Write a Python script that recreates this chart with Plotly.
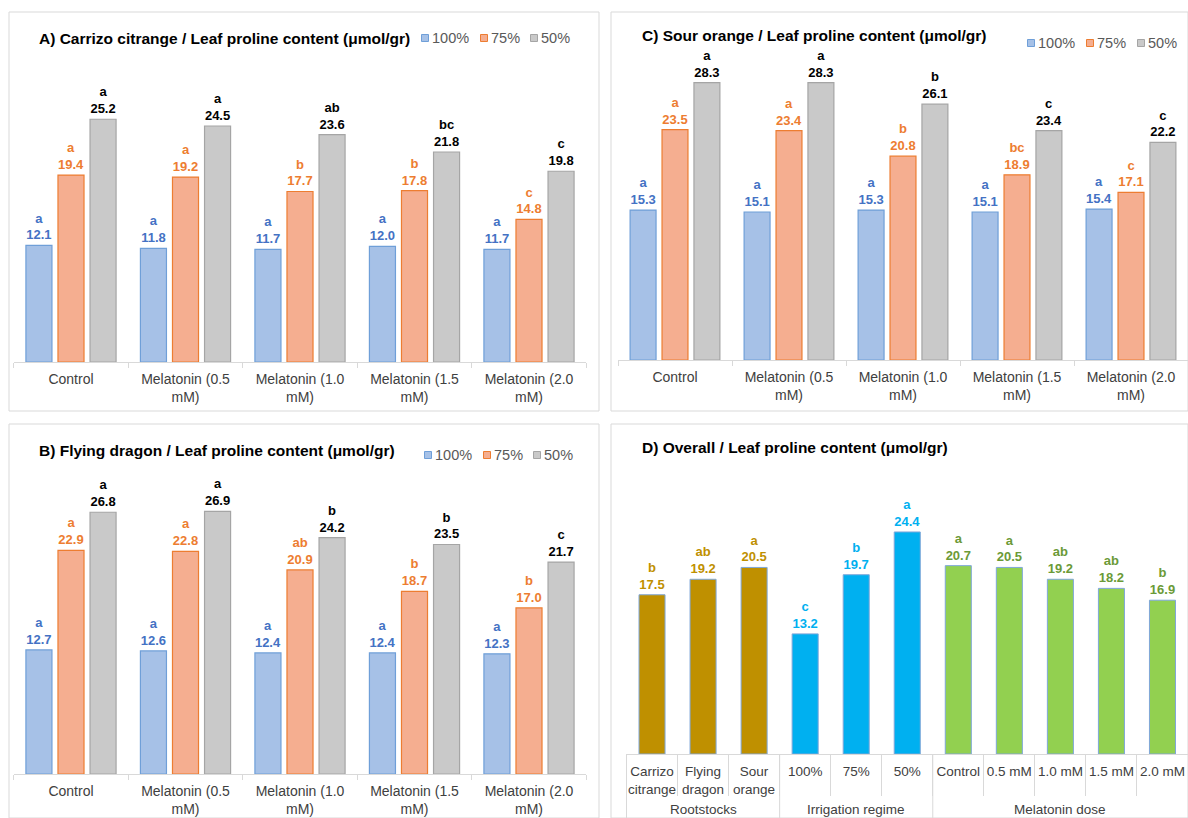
import plotly.graph_objects as go

# ---------------- data ----------------
treatments = ["Control", "Melatonin (0.5<br>mM)", "Melatonin (1.0<br>mM)",
              "Melatonin (1.5<br>mM)", "Melatonin (2.0<br>mM)"]
irrigation_levels = ["100%", "75%", "50%"]

# A) Carrizo citrange
carrizo_100 = [12.1, 11.8, 11.7, 12.0, 11.7]
carrizo_75 = [19.4, 19.2, 17.7, 17.8, 14.8]
carrizo_50 = [25.2, 24.5, 23.6, 21.8, 19.8]
carrizo_100_letters = ["a", "a", "a", "a", "a"]
carrizo_75_letters = ["a", "a", "b", "b", "c"]
carrizo_50_letters = ["a", "a", "ab", "bc", "c"]

# B) Flying dragon
dragon_100 = [12.7, 12.6, 12.4, 12.4, 12.3]
dragon_75 = [22.9, 22.8, 20.9, 18.7, 17.0]
dragon_50 = [26.8, 26.9, 24.2, 23.5, 21.7]
dragon_100_letters = ["a", "a", "a", "a", "a"]
dragon_75_letters = ["a", "a", "ab", "b", "b"]
dragon_50_letters = ["a", "a", "b", "b", "c"]

# C) Sour orange
sour_100 = [15.3, 15.1, 15.3, 15.1, 15.4]
sour_75 = [23.5, 23.4, 20.8, 18.9, 17.1]
sour_50 = [28.3, 28.3, 26.1, 23.4, 22.2]
sour_100_letters = ["a", "a", "a", "a", "a"]
sour_75_letters = ["a", "a", "b", "bc", "c"]
sour_50_letters = ["a", "a", "b", "c", "c"]

# D) Overall means
overall_groups = ["Rootstocks"] * 3 + ["Irrigation regime"] * 3 + ["Melatonin dose"] * 5
overall_labels = ["Carrizo<br>citrange", "Flying<br>dragon", "Sour<br>orange",
                  "100%", "75%", "50%",
                  "Control", "0.5 mM", "1.0 mM", "1.5 mM", "2.0 mM"]
overall_values = [17.5, 19.2, 20.5, 13.2, 19.7, 24.4, 20.7, 20.5, 19.2, 18.2, 16.9]
overall_letters = ["b", "ab", "a", "c", "b", "a", "a", "a", "ab", "ab", "b"]

# ---------------- styling ----------------
W, H = 1188, 818
FONT = "Liberation Sans, Arial, sans-serif"
LABEL_FONT = "Liberation Sans Narrow, Arial Narrow, Liberation Sans, Arial, sans-serif"
GRID = "#d9d9d9"
TICK_TXT = "#404040"
KEY_TXT = "#595959"

series_style = {
    "100%": dict(fill="#a6c1e7", line="#6f9fd8", text="#4472c4"),
    "75%": dict(fill="#f5ae90", line="#ed7d31", text="#ed7d31"),
    "50%": dict(fill="#c9c9c9", line="#a5a5a5", text="#000000"),
}
group_fill = {"Rootstocks": "#bf9000", "Irrigation regime": "#00b0f0", "Melatonin dose": "#92d050"}
group_text = {"Rootstocks": "#bf9000", "Irrigation regime": "#00b0f0", "Melatonin dose": "#6b9a37"}


def px_x(x):
    return x / W


def px_y(y):
    return 1 - y / H


def lbl(letters, values):
    return [f"<b>{l}<br>{v:.1f}</b>" for l, v in zip(letters, values)]


fig = go.Figure()

panels = [
    ("", [(carrizo_100, carrizo_100_letters), (carrizo_75, carrizo_75_letters),
          (carrizo_50, carrizo_50_letters)]),
    ("2", [(sour_100, sour_100_letters), (sour_75, sour_75_letters),
           (sour_50, sour_50_letters)]),
    ("3", [(dragon_100, dragon_100_letters), (dragon_75, dragon_75_letters),
           (dragon_50, dragon_50_letters)]),
]

for suffix, series in panels:
    for level, (vals, letters) in zip(irrigation_levels, series):
        st = series_style[level]
        fig.add_trace(go.Bar(
            x=treatments, y=vals, name=level,
            xaxis="x" + suffix, yaxis="y" + suffix, showlegend=False,
            marker=dict(color=st["fill"], line=dict(color=st["line"], width=1.2)),
            text=lbl(letters, vals), textposition="outside",
            textfont=dict(family=LABEL_FONT, size=13, color=st["text"]),
            constraintext="none", cliponaxis=False,
            hoverinfo="skip",
        ))

fig.add_trace(go.Bar(
    x=overall_labels, y=overall_values,
    xaxis="x4", yaxis="y4", showlegend=False, width=0.51,
    marker=dict(color=[group_fill[g] for g in overall_groups],
                line=dict(color="#7fa7d9", width=1)),
    text=lbl(overall_letters, overall_values), textposition="outside",
    textfont=dict(family=LABEL_FONT, size=13, color=[group_text[g] for g in overall_groups]),
    constraintext="none", cliponaxis=False, hoverinfo="skip",
))

xa_common = dict(showline=True, linecolor=GRID, linewidth=1, ticks="outside",
                 tickson="boundaries", ticklen=5, tickcolor=GRID, showgrid=False,
                 tickangle=0, automargin=False, ticklabelstandoff=4,
                 tickfont=dict(family=FONT, size=14, color=TICK_TXT), fixedrange=True)
ya_common = dict(visible=False, range=[0, 30], showgrid=False, fixedrange=True)

layout = dict(
    width=W, height=H, margin=dict(l=0, r=0, t=0, b=0, autoexpand=False),
    paper_bgcolor="white", plot_bgcolor="white",
    barmode="group", bargap=0.16, bargroupgap=0.1875,
    font=dict(family=FONT, color=TICK_TXT),
    showlegend=False,
    xaxis=dict(xa_common, domain=[px_x(13.75), px_x(586.25)], anchor="y"),
    yaxis=dict(ya_common, domain=[px_y(362), px_y(73)], anchor="x"),
    xaxis2=dict(xa_common, domain=[px_x(618), px_x(1188)], anchor="y2"),
    yaxis2=dict(ya_common, domain=[px_y(360), px_y(66)], anchor="x2"),
    xaxis3=dict(xa_common, domain=[px_x(13.75), px_x(586.25)], anchor="y3"),
    yaxis3=dict(ya_common, domain=[px_y(774), px_y(481)], anchor="x3"),
    xaxis4=dict(xa_common, domain=[px_x(626), px_x(1188)], anchor="y4",
                ticklen=41, ticklabelstandoff=5,
                tickfont=dict(family=FONT, size=13.5, color=TICK_TXT)),
    yaxis4=dict(ya_common, domain=[px_y(754), px_y(481)], anchor="x4"),
)

shapes = []
annotations = []

# panel frames
frames = [(9, 12, 599, 411), (611, 12, 1188, 411), (9, 424, 599, 818), (611, 424, 1188, 818)]
for a, b, c, d in frames:
    shapes.append(dict(type="rect", xref="paper", yref="paper",
                       x0=px_x(a), x1=px_x(c), y0=px_y(d), y1=px_y(b),
                       line=dict(color=GRID, width=1), layer="below"))

# panel D: factor group labels and full-height dividers between the groups
group_names = []
for g in overall_groups:
    if g not in group_names:
        group_names.append(g)
start = 0
for g in group_names:
    n = overall_groups.count(g)
    shapes.append(dict(type="line", xref="x4", yref="paper",
                       x0=start - 0.5, x1=start - 0.5, y0=px_y(818), y1=px_y(754),
                       line=dict(color=GRID, width=1)))
    annotations.append(dict(text=g, xref="x4", yref="paper",
                            x=start + (n - 1) / 2, y=px_y(809),
                            xanchor="center", yanchor="middle", showarrow=False,
                            font=dict(family=FONT, size=13.5, color=TICK_TXT)))
    start += n

# series keys: small square swatch followed by its label
key_positions = [
    (38, [425, 484, 534]),      # panel A
    (43, [1031, 1090, 1141]),   # panel C
    (455, [428, 487, 537]),     # panel B
]
for y, xs in key_positions:
    for level, x in zip(irrigation_levels, xs):
        st = series_style[level]
        shapes.append(dict(type="rect", xref="paper", yref="paper",
                           x0=px_x(x - 3.5), x1=px_x(x + 3.5),
                           y0=px_y(y + 3.5), y1=px_y(y - 3.5),
                           fillcolor=st["fill"], line=dict(color=st["line"], width=1)))
        annotations.append(dict(text=level, x=px_x(x + 5), y=px_y(y), xref="paper", yref="paper",
                                xanchor="left", yanchor="middle", showarrow=False,
                                font=dict(family=FONT, size=14.5, color=KEY_TXT)))

titles = [
    ("A) Carrizo citrange / Leaf proline content (μmol/gr)", 37, 38),
    ("C) Sour orange / Leaf proline content (μmol/gr)", 640, 36),
    ("B) Flying dragon / Leaf proline content (μmol/gr)", 37, 451),
    ("D) Overall / Leaf proline content (μmol/gr)", 640, 447),
]
for t, x, y in titles:
    annotations.append(dict(text=f"<b>{t}</b>", x=px_x(x), y=px_y(y), xref="paper", yref="paper",
                            xanchor="left", yanchor="middle", showarrow=False,
                            font=dict(family=FONT, size=15.5, color="#000000")))

layout["shapes"] = shapes
layout["annotations"] = annotations

fig.update_layout(**layout)
fig.write_html("out.html")
